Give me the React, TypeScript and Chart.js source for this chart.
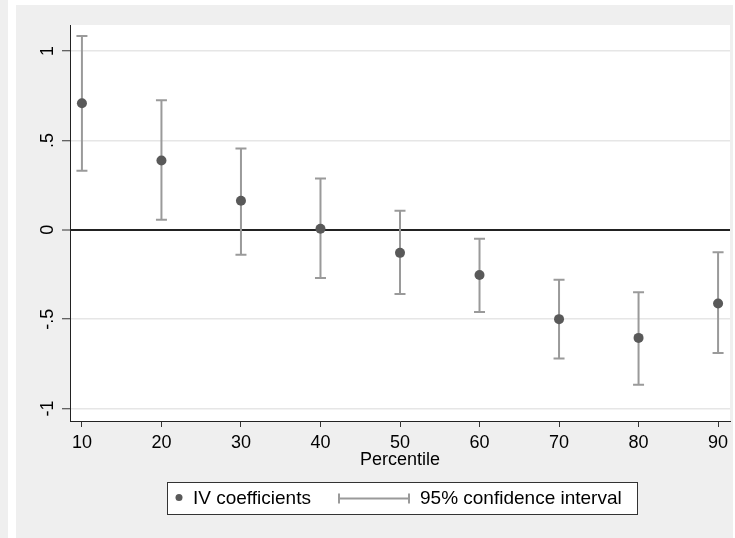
import React, { useEffect, useRef } from "react";
import { Chart, registerables } from "chart.js";

Chart.register(...registerables);

const percentiles = [10, 20, 30, 40, 50, 60, 70, 80, 90];
const coefficients = [0.708, 0.388, 0.163, 0.006, -0.129, -0.253, -0.5, -0.605, -0.412];
const ciLower = [0.331, 0.056, -0.14, -0.27, -0.36, -0.46, -0.72, -0.867, -0.69];
const ciUpper = [1.084, 0.725, 0.455, 0.287, 0.107, -0.05, -0.28, -0.35, -0.125];
const yTicks = [-1, -0.5, 0, 0.5, 1];
const yTickLabels = ["-1", "-.5", "0", ".5", "1"];
const xTicks = [10, 20, 30, 40, 50, 60, 70, 80, 90];
const xTitle = "Percentile";
const legendPointLabel = "IV coefficients";
const legendCILabel = "95% confidence interval";

const FONT = "'Liberation Sans', Arial, sans-serif";
const BG = "#efefef";
const CI_COLOR = "#9a9a9a";
const PT_COLOR = "#595959";
const TEXT = "#000000";

const backgroundPlugin = {
  id: "bgPanel",
  beforeDraw(chart: any) {
    const ctx = chart.ctx;
    const { width, height } = chart;
    ctx.save();
    ctx.fillStyle = "#ffffff";
    ctx.fillRect(0, 0, width, height);
    ctx.fillStyle = BG;
    ctx.fillRect(0, 0, 8, height);
    ctx.fillRect(16, 5, width - 18, height - 5);
    const a = chart.chartArea;
    ctx.fillStyle = "#ffffff";
    ctx.fillRect(a.left, a.top, a.right - a.left, a.bottom - a.top);
    ctx.restore();
  },
};

const errorBarPlugin = {
  id: "errorBars",
  beforeDatasetsDraw(chart: any) {
    const ctx = chart.ctx;
    const xs = chart.scales.x;
    const ys = chart.scales.y;
    ctx.save();
    ctx.strokeStyle = CI_COLOR;
    ctx.lineWidth = 2;
    percentiles.forEach((p, i) => {
      const x = xs.getPixelForValue(p);
      const y1 = ys.getPixelForValue(ciLower[i]);
      const y2 = ys.getPixelForValue(ciUpper[i]);
      ctx.beginPath();
      ctx.moveTo(x, y1);
      ctx.lineTo(x, y2);
      ctx.moveTo(x - 5.5, y1);
      ctx.lineTo(x + 5.5, y1);
      ctx.moveTo(x - 5.5, y2);
      ctx.lineTo(x + 5.5, y2);
      ctx.stroke();
    });
    ctx.restore();
  },
};

const labelsPlugin = {
  id: "stataLabels",
  afterDraw(chart: any) {
    const ctx = chart.ctx;
    const xs = chart.scales.x;
    const ys = chart.scales.y;
    const a = chart.chartArea;
    ctx.save();
    ctx.fillStyle = TEXT;
    ctx.font = `18px ${FONT}`;
    // y tick labels rotated
    yTicks.forEach((v, i) => {
      const y = ys.getPixelForValue(v);
      ctx.save();
      ctx.translate(48, y);
      ctx.rotate(-Math.PI / 2);
      ctx.textAlign = "center";
      ctx.textBaseline = "middle";
      ctx.fillText(yTickLabels[i], 0, 0);
      ctx.restore();
    });
    // x tick labels
    ctx.textAlign = "center";
    ctx.textBaseline = "middle";
    xTicks.forEach((v) => {
      ctx.fillText(String(v), xs.getPixelForValue(v), 443);
    });
    // x title
    ctx.font = `18px ${FONT}`;
    ctx.fillText(xTitle, (a.left + a.right) / 2, 460);

    // legend
    const lx = 167, ly = 482, lw = 470, lh = 32;
    ctx.fillStyle = "#ffffff";
    ctx.fillRect(lx, ly, lw, lh);
    ctx.strokeStyle = "#333333";
    ctx.lineWidth = 1;
    ctx.strokeRect(lx + 0.5, ly + 0.5, lw, lh);
    const cy = ly + lh / 2 + 0.5;
    ctx.fillStyle = PT_COLOR;
    ctx.beginPath();
    ctx.arc(179, cy - 1, 3.5, 0, Math.PI * 2);
    ctx.fill();
    ctx.font = `19px ${FONT}`;
    ctx.fillStyle = TEXT;
    ctx.textAlign = "left";
    ctx.fillText(legendPointLabel, 193, cy);
    ctx.strokeStyle = CI_COLOR;
    ctx.lineWidth = 2;
    ctx.beginPath();
    ctx.moveTo(339, cy);
    ctx.lineTo(409, cy);
    ctx.moveTo(339, cy - 5);
    ctx.lineTo(339, cy + 5);
    ctx.moveTo(409, cy - 5);
    ctx.lineTo(409, cy + 5);
    ctx.stroke();
    ctx.fillStyle = TEXT;
    ctx.fillText(legendCILabel, 420, cy);
    ctx.restore();
  },
};

export default function App() {
  const canvasRef = useRef<HTMLCanvasElement | null>(null);

  useEffect(() => {
    if (!canvasRef.current) return;
    const chart = new Chart(canvasRef.current, {
      type: "scatter",
      data: {
        datasets: [
          {
            label: legendPointLabel,
            data: percentiles.map((p, i) => ({ x: p, y: coefficients[i] })),
            backgroundColor: PT_COLOR,
            borderColor: PT_COLOR,
            pointRadius: 5,
            pointBorderWidth: 0,
            showLine: false,
          },
        ],
      },
      options: {
        animation: false,
        responsive: true,
        maintainAspectRatio: false,
        layout: { padding: { top: 25, right: 2, left: 0, bottom: 0 } },
        plugins: {
          legend: { display: false },
          tooltip: { enabled: false },
        },
        scales: {
          x: {
            type: "linear",
            min: 8.5,
            max: 91.5,
            afterBuildTicks: (s: any) => {
              s.ticks = xTicks.map((v) => ({ value: v }));
            },
            afterFit: (s: any) => {
              s.height = 117;
            },
            ticks: { display: false },
            grid: {
              drawOnChartArea: false,
              drawTicks: true,
              tickLength: 6,
              tickColor: "#333333",
              tickWidth: 1,
            },
            border: { display: true, color: "#222222", width: 1 },
          },
          y: {
            type: "linear",
            min: -1.07,
            max: 1.146,
            afterBuildTicks: (s: any) => {
              s.ticks = yTicks.map((v) => ({ value: v }));
            },
            afterFit: (s: any) => {
              s.width = 70;
            },
            ticks: { display: false },
            grid: {
              drawOnChartArea: true,
              drawTicks: true,
              tickLength: 8,
              tickColor: "#333333",
              tickWidth: 1,
              color: (c: any) => (c.tick && c.tick.value === 0 ? "#222222" : "#e6e6e6"),
              lineWidth: (c: any) => (c.tick && c.tick.value === 0 ? 2 : 1.5),
            },
            border: { display: true, color: "#222222", width: 1 },
          },
        },
      },
      plugins: [backgroundPlugin, errorBarPlugin, labelsPlugin],
    });
    return () => chart.destroy();
  }, []);

  return (
    <div style={{ position: "fixed", left: 0, top: 0, width: 735, height: 538 }}>
      <canvas ref={canvasRef} />
    </div>
  );
}
